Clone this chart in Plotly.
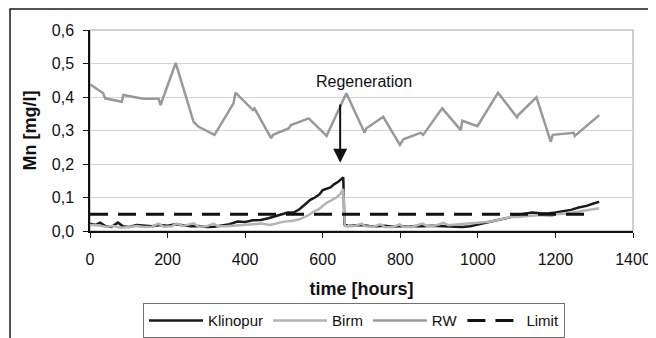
import plotly.graph_objects as go

# ---------------- data ----------------
rw_hours = [0, 34, 39, 82, 86, 133, 137, 177, 182, 221, 267, 280, 321, 370, 375, 420, 424,
            467, 472, 512, 518, 564, 610, 661, 708, 712, 756, 799, 808, 852, 859, 908, 956,
            960, 999, 1052, 1101, 1104, 1151, 1188, 1193, 1247, 1250, 1313]
rw_values = [0.438, 0.411, 0.396, 0.386, 0.406, 0.396, 0.395, 0.395, 0.376, 0.502, 0.326, 0.311,
             0.287, 0.381, 0.413, 0.361, 0.366, 0.277, 0.287, 0.306, 0.316, 0.336, 0.284, 0.411,
             0.293, 0.306, 0.341, 0.257, 0.274, 0.293, 0.287, 0.366, 0.301, 0.329, 0.313, 0.413,
             0.339, 0.346, 0.399, 0.267, 0.287, 0.293, 0.284, 0.346]

klino_hours = [0, 15, 26, 40, 55, 72, 85, 100, 120, 140, 160, 180, 200, 220, 240, 260, 280, 300,
               320, 340, 360, 380, 400, 420, 440, 460, 480, 500, 510, 525, 540, 555, 568, 580,
               592, 600, 611, 620, 630, 640, 653, 656, 665, 680, 700, 720, 740, 760, 780, 800,
               820, 840, 860, 880, 900, 920, 940, 960, 980, 1000, 1020, 1040, 1060, 1080, 1100,
               1120, 1140, 1160, 1180, 1200, 1220, 1240, 1260, 1280, 1300, 1313]
klino_values = [0.022, 0.018, 0.025, 0.015, 0.012, 0.025, 0.014, 0.012, 0.018, 0.015, 0.014, 0.018,
                0.016, 0.020, 0.017, 0.014, 0.015, 0.012, 0.013, 0.016, 0.020, 0.028, 0.027, 0.032,
                0.033, 0.038, 0.045, 0.050, 0.055, 0.055, 0.065, 0.080, 0.093, 0.100, 0.110, 0.122,
                0.127, 0.130, 0.140, 0.147, 0.160, 0.020, 0.015, 0.016, 0.018, 0.015, 0.014, 0.016,
                0.013, 0.015, 0.013, 0.015, 0.014, 0.016, 0.015, 0.013, 0.011, 0.012, 0.014, 0.020,
                0.025, 0.030, 0.035, 0.040, 0.048, 0.052, 0.055, 0.053, 0.052, 0.055, 0.058, 0.063,
                0.070, 0.075, 0.083, 0.087]

birm_hours = [0, 20, 40, 60, 80, 100, 120, 140, 160, 176, 190, 210, 224, 240, 267, 280, 300, 318,
              330, 350, 370, 400, 420, 440, 465, 480, 500, 520, 540, 560, 577, 590, 600, 611, 620,
              635, 645, 653, 657, 680, 700, 710, 730, 749, 760, 780, 798, 810, 830, 857, 870, 890,
              911, 925, 950, 980, 1000, 1033, 1060, 1085, 1100, 1130, 1160, 1190, 1200, 1230,
              1260, 1290, 1313]
birm_values = [0.018, 0.017, 0.013, 0.015, 0.010, 0.012, 0.015, 0.012, 0.013, 0.022, 0.013, 0.014,
               0.022, 0.015, 0.023, 0.013, 0.014, 0.022, 0.014, 0.014, 0.016, 0.018, 0.020, 0.022,
               0.018, 0.022, 0.028, 0.030, 0.035, 0.045, 0.058, 0.065, 0.075, 0.085, 0.090, 0.100,
               0.110, 0.125, 0.015, 0.014, 0.022, 0.014, 0.013, 0.020, 0.012, 0.011, 0.020, 0.012,
               0.012, 0.022, 0.014, 0.016, 0.024, 0.017, 0.020, 0.022, 0.025, 0.028, 0.035, 0.042,
               0.042, 0.045, 0.048, 0.045, 0.050, 0.052, 0.058, 0.065, 0.068]

limit_hours = [0, 1296]
limit_values = [0.05, 0.05]

regen_hour = 645
regen_tip = 0.204
regen_tail = 0.382

x_ticks = [0, 200, 400, 600, 800, 1000, 1200, 1400]
y_ticks = [0.0, 0.1, 0.2, 0.3, 0.4, 0.5, 0.6]

FONT = "Liberation Sans, Arial, sans-serif"

fig = go.Figure()
fig.add_trace(go.Scatter(x=klino_hours, y=klino_values, mode="lines", name="Klinopur",
                         line=dict(color="#1a1a1a", width=2.5)))
fig.add_trace(go.Scatter(x=birm_hours, y=birm_values, mode="lines", name="Birm",
                         line=dict(color="#b4b4b4", width=2.5)))
fig.add_trace(go.Scatter(x=rw_hours, y=rw_values, mode="lines", name="RW",
                         line=dict(color="#999999", width=2.5)))
fig.add_trace(go.Scatter(x=limit_hours, y=limit_values, mode="lines", name="Limit",
                         line=dict(color="#111111", width=3, dash="18px,10px")))

# Regeneration arrow + label
fig.add_annotation(x=regen_hour, y=regen_tip, ax=regen_hour, ay=regen_tail,
                   xref="x", yref="y", axref="x", ayref="y", text="",
                   showarrow=True, arrowhead=2, arrowsize=1.4, arrowwidth=2,
                   arrowcolor="#111111")
fig.add_annotation(x=706, y=0.445, xref="x", yref="y", text="Regeneration",
                   showarrow=False, font=dict(family=FONT, size=16, color="#111111"))

# outer frame & plot-area border
fig.add_shape(type="rect", xref="paper", yref="paper", x0=-0.1473, x1=1.3, y0=-0.7, y1=1.1045,
              line=dict(color="#1a1a1a", width=1.5), layer="below")
fig.add_shape(type="rect", xref="paper", yref="paper", x0=0, x1=1, y0=0, y1=1,
              line=dict(color="#a0a0a0", width=1), layer="below")

fig.update_layout(
    width=648, height=330,
    margin=dict(l=82, r=23, t=22, b=107, autoexpand=False),
    paper_bgcolor="white", plot_bgcolor="white",
    separators=",.",
    font=dict(family=FONT, size=16, color="#111111"),
    showlegend=True,
    legend=dict(orientation="h", x=0.0976, xanchor="left", y=-0.36, yanchor="top",
                bordercolor="#707070", borderwidth=1, bgcolor="white",
                font=dict(family=FONT, size=15, color="#111111"),
                itemwidth=54, tracegroupgap=0),
)
fig.update_xaxes(range=[0, 1400], tickvals=x_ticks, showgrid=False, zeroline=False,
                 showline=True, linecolor="#111111", linewidth=1.5, automargin=False,
                 ticks="outside", ticklen=5, tickcolor="#111111", ticklabelstandoff=8,
                 tickfont=dict(size=16),
                 title=dict(text="<b>time [hours]</b>", font=dict(size=18), standoff=15))
fig.update_yaxes(range=[0, 0.6], tickvals=y_ticks, tickformat=".1f", showgrid=True,
                 gridcolor="#d4d4d4", gridwidth=1, zeroline=False,
                 showline=True, linecolor="#111111", linewidth=1.5, automargin=False,
                 ticks="outside", ticklen=5, tickcolor="#111111", ticklabelstandoff=6,
                 tickfont=dict(size=16),
                 title=dict(text="<b>Mn [mg/l]</b>", font=dict(size=18), standoff=10))

fig.write_html("out.html")
